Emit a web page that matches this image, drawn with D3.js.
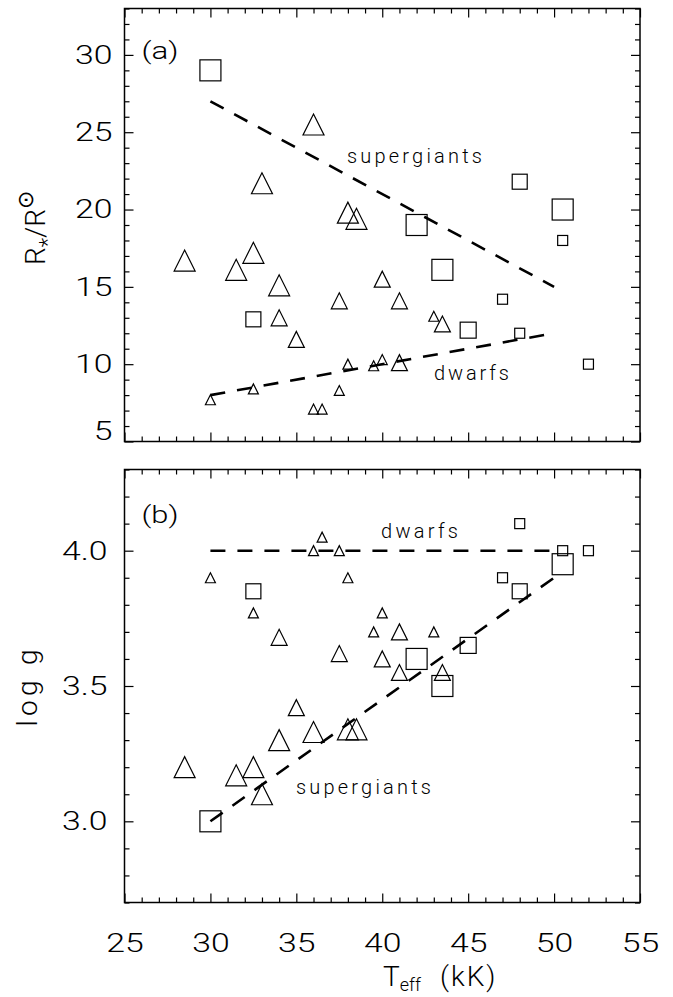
<!DOCTYPE html>
<html lang="en">
<head>
<meta charset="utf-8">
<title>R and log g vs Teff</title>
<script src="https://cdn.jsdelivr.net/npm/d3@7"></script>
<style>
body { margin: 0; background: #fff; }
svg text { font-family: "Roboto Light", Roboto, "DejaVu Sans", sans-serif; font-weight: 300; fill: #000; }
.tl { font-size: 26px; }
.ann { font-size: 20px; }
.ttl { font-size: 28px; }
.tick line { stroke: #000; stroke-width: 1.2; }
</style>
</head>
<body>
<svg width="673" height="997"></svg>
<script>

// squares
var sqTeff   = [30, 32.5, 42, 43.5, 45, 50.5, 48, 50.5, 47, 48, 52];
var sqRadius = [29.0, 12.9, 19.0, 16.1, 12.2, 20.0, 21.8, 18.0, 14.2, 12.0, 10.0];
var sqLogg   = [3.00, 3.85, 3.60, 3.50, 3.65, 3.95, 3.85, 4.00, 3.90, 4.10, 4.00];
var sqSize   = [21, 15, 21, 21, 16, 21, 15, 10, 10, 10, 10];

// triangles
var triTeff   = [28.5, 31.5, 32.5, 33, 34, 34, 35, 36, 37.5, 38, 38.5, 40, 41, 41, 43.5,
                 30, 32.5, 36, 36.5, 37.5, 38, 39.5, 40, 43];
var triRadius = [16.7, 16.1, 17.2, 21.7, 15.1, 13.0, 11.6, 25.5, 14.1, 19.8, 19.4, 15.5, 14.1, 10.1, 12.6,
                 7.7, 8.4, 7.1, 7.1, 8.3, 10.0, 9.9, 10.3, 13.1];
var triLogg   = [3.20, 3.17, 3.20, 3.10, 3.30, 3.68, 3.42, 3.33, 3.62, 3.34, 3.34, 3.60, 3.70, 3.55, 3.55,
                 3.90, 3.77, 4.00, 4.05, 4.00, 3.90, 3.70, 3.77, 3.70];
var triSize   = [21, 21, 21, 21, 21, 16, 16, 21, 16, 21, 21, 16, 16, 16, 16,
                 10, 10, 10, 10, 10, 10, 10, 10, 10];

// dashed relations
var fitTeff  = [30, 50];
var sgRadius = [27, 15];
var dwRadius = [8, 12];
var sgLogg   = [3.0, 3.9];
var dwLogg   = [4.0, 4.0];

// ticks
var xLabels  = [25, 30, 35, 40, 45, 50, 55];
var rLabels  = [5, 10, 15, 20, 25, 30];
var gLabels  = [3.0, 3.5, 4.0];

var svg = d3.select("svg");
var left = 124.5, right = 640;

var x = d3.scaleLinear().domain([25, 55]).range([left, right]);
var yA = d3.scaleLinear().domain([5, 33]).range([441.5, 8.5]);
var yB = d3.scaleLinear().domain([2.7, 4.3]).range([902.5, 469.5]);

var xMinor = d3.range(25, 56).filter(function(v) { return v % 5; });
var rMinor = d3.range(5, 34).filter(function(v) { return v % 5; });
var gMinor = d3.range(27, 44).map(function(v) { return v / 10; })
               .filter(function(v) { return Math.abs(v * 2 - Math.round(v * 2)) > 0.01; });

// stretch labels sideways, the original font is a wide one
function widen(sel, k) {
  sel.each(function() {
    var t = d3.select(this);
    var tx = +t.attr("x") || 0;
    t.attr("x", tx / k).attr("transform", "scale(" + k + ",1)");
  });
}

function frame(g, y, yMajor, yMinor, yFmt, yPad, showX) {
  var top = y.range()[1], bot = y.range()[0];

  g.append("g").attr("transform", "translate(" + left + ",0)")
    .call(d3.axisLeft(y).tickValues(yMinor).tickSize(-5).tickFormat(""));
  var la = g.append("g").attr("transform", "translate(" + left + ",0)")
    .call(d3.axisLeft(y).tickValues(yMajor).tickSize(-9).tickPadding(yPad).tickFormat(yFmt));
  la.selectAll("text").attr("class", "tl").call(widen, 1.3);

  g.append("g").attr("transform", "translate(" + right + ",0)")
    .call(d3.axisRight(y).tickValues(yMinor).tickSize(-5).tickFormat(""));
  g.append("g").attr("transform", "translate(" + right + ",0)")
    .call(d3.axisRight(y).tickValues(yMajor).tickSize(-9).tickFormat(""));

  g.append("g").attr("transform", "translate(0," + top + ")")
    .call(d3.axisTop(x).tickValues(xMinor).tickSize(-5).tickFormat(""));
  g.append("g").attr("transform", "translate(0," + top + ")")
    .call(d3.axisTop(x).tickValues(xLabels).tickSize(-9).tickFormat(""));

  g.append("g").attr("transform", "translate(0," + bot + ")")
    .call(d3.axisBottom(x).tickValues(xMinor).tickSize(-5).tickFormat(""));
  var ba = g.append("g").attr("transform", "translate(0," + bot + ")")
    .call(d3.axisBottom(x).tickValues(xLabels).tickSize(-9).tickPadding(31)
      .tickFormat(showX ? d3.format("d") : ""));
  ba.selectAll("text").attr("class", "tl").call(widen, 1.3);

  g.selectAll(".domain").remove();

  g.append("rect")
    .attr("x", left).attr("y", top)
    .attr("width", right - left).attr("height", bot - top)
    .attr("fill", "none").attr("stroke", "#000").attr("stroke-width", 1.5);
  return la;
}

function marks(g, y, sqY, triY, fits) {
  var line = d3.line()
    .x(function(d) { return x(d[0]); })
    .y(function(d) { return y(d[1]); });

  fits.forEach(function(f) {
    g.append("path")
      .attr("d", line(fitTeff.map(function(t, i) { return [t, f[i]]; })))
      .attr("fill", "none").attr("stroke", "#000")
      .attr("stroke-width", 2.6).attr("stroke-dasharray", "15,12");
  });

  g.selectAll(".sq").data(d3.range(sqTeff.length)).join("rect")
    .attr("class", "sq")
    .attr("x", function(i) { return x(sqTeff[i]) - sqSize[i] / 2; })
    .attr("y", function(i) { return y(sqY[i]) - sqSize[i] / 2; })
    .attr("width", function(i) { return sqSize[i]; })
    .attr("height", function(i) { return sqSize[i]; })
    .attr("fill", "none").attr("stroke", "#000").attr("stroke-width", 1.2);

  g.selectAll(".tri").data(d3.range(triTeff.length)).join("path")
    .attr("class", "tri")
    .attr("d", function(i) {
      var cx = x(triTeff[i]), cy = y(triY[i]), h = triSize[i] / 2;
      return "M" + (cx - h) + "," + (cy + h) + "L" + (cx + h) + "," + (cy + h) +
             "L" + cx + "," + (cy - h) + "Z";
    })
    .attr("fill", "none").attr("stroke", "#000").attr("stroke-width", 1.2)
    .attr("stroke-linejoin", "miter");
}

function note(g, txt, xp, yp, len, cls) {
  g.append("text").attr("class", cls || "ann")
    .attr("x", xp).attr("y", yp)
    .attr("textLength", len).attr("lengthAdjust", "spacing")
    .text(txt);
}

// panel (a)
var ga = svg.append("g");
marks(ga, yA, sqRadius, triRadius, [sgRadius, dwRadius]);
var laA = frame(ga, yA, rLabels, rMinor, d3.format("d"), 12, false);
laA.selectAll(".tick").filter(function(d) { return d === 5; })
  .select("text").attr("y", -10);
ga.append("text").attr("x", 141.5).attr("y", 59).attr("textLength", 37)
  .attr("lengthAdjust", "spacingAndGlyphs").style("font-size", "24px").text("(a)");
note(ga, "supergiants", 347, 163, 135);
note(ga, "dwarfs", 434, 380, 75);

// panel (b)
var gb = svg.append("g");
marks(gb, yB, sqLogg, triLogg, [sgLogg, dwLogg]);
frame(gb, yB, gLabels, gMinor, d3.format(".1f"), 17, true);
gb.append("text").attr("x", 141.5).attr("y", 523).attr("textLength", 37)
  .attr("lengthAdjust", "spacingAndGlyphs").style("font-size", "24px").text("(b)");
note(gb, "dwarfs", 381, 538, 77);
note(gb, "supergiants", 296, 794, 135);

// axis titles
var yt = svg.append("text").attr("class", "ttl")
  .attr("transform", "translate(45,228) rotate(-90)")
  .attr("text-anchor", "middle");
yt.append("tspan").text("R");
yt.append("tspan").attr("dy", 10).style("font-size", "22px").text("*");
yt.append("tspan").attr("dy", -10).text("/R");
yt.append("tspan").attr("dy", -12).style("font-size", "22px").text("\u2299");

svg.append("text").attr("class", "ttl")
  .attr("transform", "translate(37,688) rotate(-90)")
  .attr("text-anchor", "middle")
  .attr("textLength", 77).attr("lengthAdjust", "spacing")
  .text("log g");

var xt = svg.append("text").attr("class", "ttl").attr("x", 383).attr("y", 986);
xt.append("tspan").text("T");
xt.append("tspan").attr("dy", 5).style("font-size", "18px").text("eff");
xt.append("tspan").attr("x", 440).attr("dy", -5).attr("letter-spacing", 2).text("(kK)");

</script>
</body>
</html>
